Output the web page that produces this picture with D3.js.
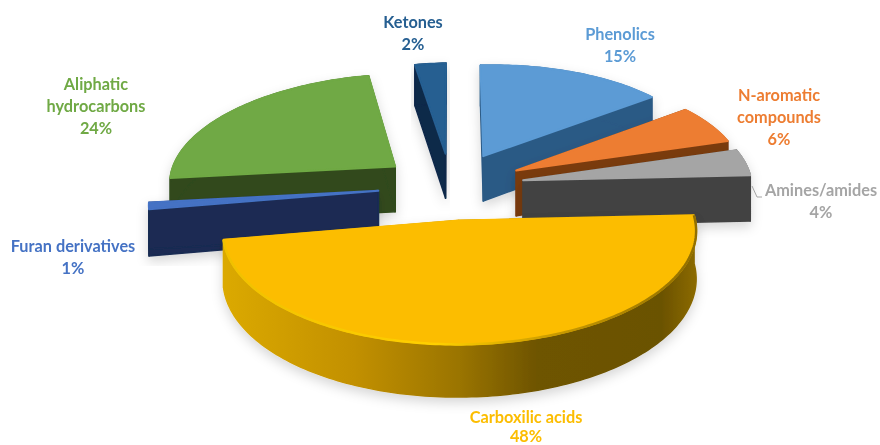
<!DOCTYPE html>
<html>
<head>
<meta charset="utf-8">
<script src="https://cdn.jsdelivr.net/npm/d3@7"></script>
<style>
  html, body { margin: 0; padding: 0; background: #fff; }
  text { font-family: Lato, "Open Sans", sans-serif; font-weight: 700; font-size: 16.3px; text-anchor: middle; }
</style>
</head>
<body>
<svg id="chart" width="880" height="445"></svg>
<script>
// Chart data, same order as the pie runs clockwise from the top
// (shown as rounded percentages, the slices look a little off the round numbers)
const categories = ["Phenolics", "N-aromatic compounds", "Amines/amides", "Carboxilic acids", "Furan derivatives", "Aliphatic hydrocarbons", "Ketones"];
const values = [15, 6, 4, 48, 1, 23.55, 2.45];
const labelLines = [["Phenolics"], ["N-aromatic", "compounds"], ["Amines/amides"], ["Carboxilic acids"], ["Furan derivatives"], ["Aliphatic", "hydrocarbons"], ["Ketones"]];

// Colours per slice
const topColors = ["#5b9bd5", "#ed7d31", "#a5a5a5", "#fcbd00", "#4472c4", "#6fa944", "#255e91"];
const sideColors = ["#2c5a85", "#7a3b10", "#434343", "#7a5c00", "#1a2c52", "#304a1b", "#10294a"];
const textColors = ["#5b9bd5", "#ed7d31", "#a5a5a5", "#fcbd00", "#4472c4", "#6fa944", "#255e91"];

// Label centres [x, y of first line]
const labelPos = [[620, 40], [779, 101], [821, 196], [526, 423], [73, 252], [96, 90], [413, 28]];

// Painter order, far slices first
const drawOrder = [0, 6, 5, 1, 2, 4, 3];

// 3D pie settings
const cx = 451, cy = 186;
const radius = 228;
const explode = 73;
const thickness = 46;
const tilt = 0.46;      // squash of the pie plane
const persp = 0.00042;  // perspective strength
const roll = 0.022;     // chart is turned slightly
const lean = 0.04;      // near half drifts to the right
const lineHeight = 22;
const lastBaseline = 442; // keeps the bottom label inside the picture

const svg = d3.select("#chart");
const defs = svg.append("defs");

defs.append("filter").attr("id", "soft").attr("x", "-5%").attr("y", "-5%").attr("width", "110%").attr("height", "110%")
    .append("feGaussianBlur").attr("stdDeviation", 0.4);

const shadow = defs.append("filter").attr("id", "shadow").attr("x", "-10%").attr("y", "-10%").attr("width", "120%").attr("height", "125%");
shadow.append("feDropShadow").attr("dx", 0).attr("dy", 5).attr("stdDeviation", 6)
    .attr("flood-color", "#000").attr("flood-opacity", 0.16);

// Yellow wall goes from lit on the left to dark on the right
const wallGrad = defs.append("linearGradient").attr("id", "wallGrad")
    .attr("gradientUnits", "userSpaceOnUse")
    .attr("x1", 220).attr("x2", 700).attr("y1", 0).attr("y2", 0);
[[0, "#dcaa00"], [0.28, "#c29000"], [0.5, "#9a7400"], [0.66, "#6e5400"], [0.92, "#6b5200"], [1, "#8f6d00"]].forEach(s => {
    wallGrad.append("stop").attr("offset", s[0]).attr("stop-color", s[1]);
});

const rimGrad = defs.append("linearGradient").attr("id", "rimGrad")
    .attr("gradientUnits", "userSpaceOnUse")
    .attr("x1", 220).attr("x2", 700).attr("y1", 0).attr("y2", 0);
[[0, "#f0c000"], [0.45, "#ffd000"], [0.7, "#c99a00"], [1, "#8f6d00"]].forEach(s => {
    rimGrad.append("stop").attr("offset", s[0]).attr("stop-color", s[1]);
});

const root = svg.append("g").attr("filter", "url(#soft)");

const pie = d3.pie().sort(null).value(d => d);
const arcs = pie(values);

// Projects a point on the pie plane (u to the right, v away from viewer)
function project(u, v, down) {
    const s = 1 / (1 + persp * v);
    const x = cx + u * s - lean * Math.min(v, 0);
    const y = cy - tilt * v * s - roll * u * s + down * s;
    return [x, y];
}

const line = d3.line();

arcs.forEach(a => {
    const mid = (a.startAngle + a.endAngle) / 2;
    a.offU = explode * Math.sin(mid);
    a.offV = explode * Math.cos(mid);
});

function apex(a, down) {
    return project(a.offU, a.offV, down);
}

function rim(a, angle, down) {
    return project(a.offU + radius * Math.sin(angle), a.offV + radius * Math.cos(angle), down);
}

function rimPoints(a, from, to, down) {
    const n = Math.max(2, Math.ceil((to - from) / 0.02));
    return d3.range(n + 1).map(i => rim(a, from + (to - from) * i / n, down));
}

function cutFace(a, angle) {
    return line([apex(a, 0), rim(a, angle, 0), rim(a, angle, thickness), apex(a, thickness)]) + "Z";
}

drawOrder.forEach(i => {
    const a = arcs[i];
    const isMain = values[i] === d3.max(values);
    const g = root.append("g").attr("class", "slice").attr("filter", "url(#shadow)");
    const side = isMain ? "url(#wallGrad)" : sideColors[i];

    [a.startAngle, a.endAngle].forEach(angle => {
        g.append("path").attr("d", cutFace(a, angle)).attr("fill", side)
            .attr("stroke", side).attr("stroke-width", 1.5).attr("stroke-linejoin", "round");
    });

    // outer wall
    const upper = rimPoints(a, a.startAngle, a.endAngle, 0);
    const lower = rimPoints(a, a.startAngle, a.endAngle, thickness).reverse();
    g.append("path").attr("d", line(upper.concat(lower)) + "Z").attr("fill", side)
        .attr("stroke", side).attr("stroke-width", 1.5).attr("stroke-linejoin", "round");

    // top surface, same colour stroke hides the outline of the walls behind it
    const topPts = [apex(a, 0)].concat(upper);
    g.append("path").attr("d", line(topPts) + "Z").attr("fill", topColors[i])
        .attr("stroke", topColors[i]).attr("stroke-width", 2).attr("stroke-linejoin", "round");

    if (isMain) {
        g.append("path").attr("d", line(upper)).attr("fill", "none")
            .attr("stroke", "url(#rimGrad)").attr("stroke-width", 2.5);
    }
});

// Leader line of the Amines/amides label
root.append("path").attr("d", line([[752, 186], [757, 197], [762, 197]]))
    .attr("fill", "none").attr("stroke", "#a5a5a5").attr("stroke-width", 1);

// Labels
categories.forEach((name, i) => {
    const t = root.append("text").attr("fill", textColors[i]);
    const lines = labelLines[i].concat([Math.round(values[i]) + "%"]);
    lines.forEach((l, k) => {
        t.append("tspan").attr("x", labelPos[i][0])
            .attr("y", Math.min(labelPos[i][1] + k * lineHeight, lastBaseline)).text(l);
    });
});
</script>
</body>
</html>
